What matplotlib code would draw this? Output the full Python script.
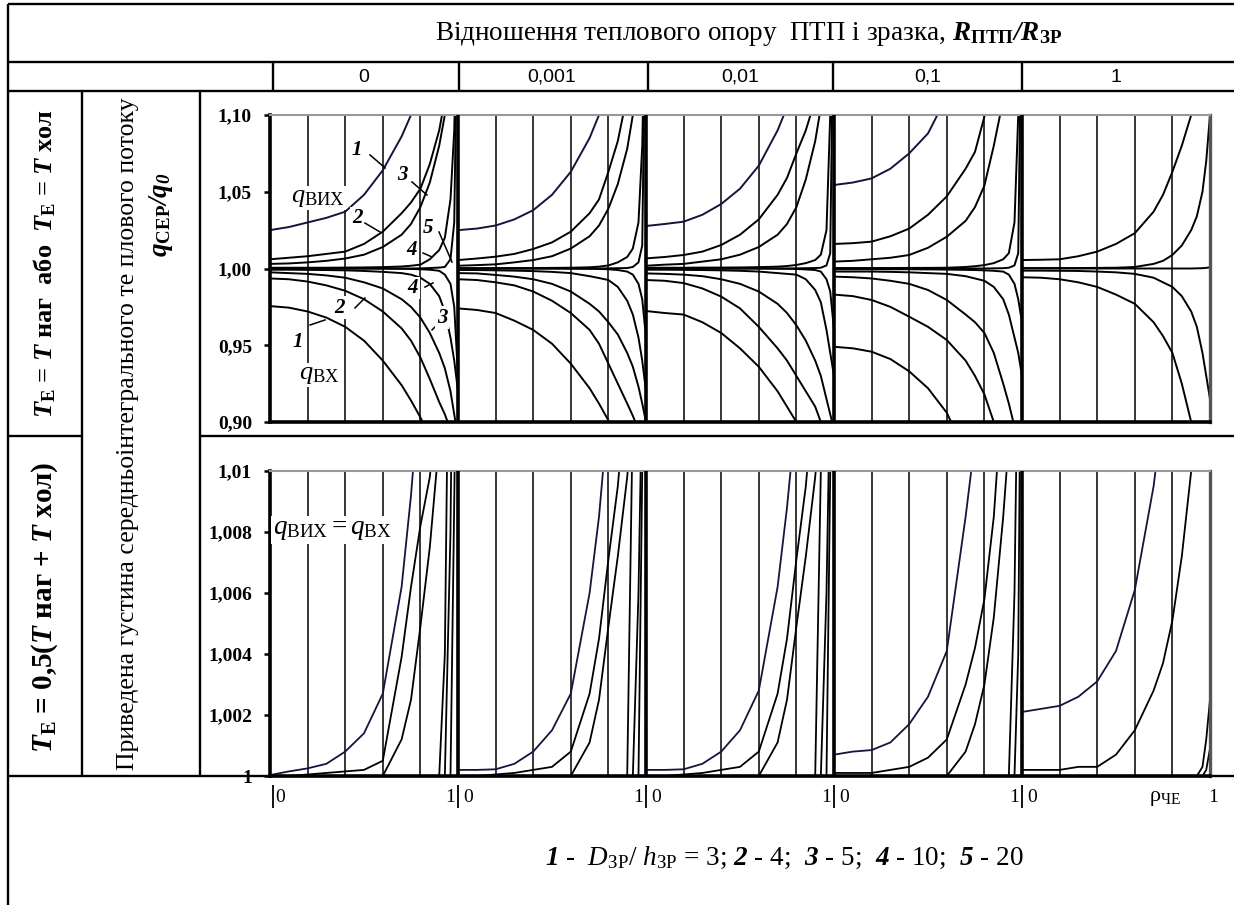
import numpy as np
import matplotlib.pyplot as plt

plt.rcParams["font.family"] = ["Liberation Serif", "DejaVu Serif"]
plt.rcParams["mathtext.fontset"] = "custom"
plt.rcParams["mathtext.rm"] = "Liberation Serif"
plt.rcParams["mathtext.it"] = "Liberation Serif:italic"
plt.rcParams["mathtext.bf"] = "Liberation Serif:bold"
plt.rcParams["mathtext.bfit"] = "Liberation Serif:italic:bold"

# relative coordinate rho along each panel
rho = [0, 0.1, 0.2, 0.3, 0.4, 0.5, 0.6, 0.7, 0.75, 0.8, 0.85, 0.9, 0.93, 0.96, 0.98, 1.0]
r_labels = ["0", "0,001", "0,01", "0,1", "1"]

# upper row: q_out (above 1) and q_in (below 1), curves 1..5 (D/h = 3, 4, 5, 10, 20)
q_out_r0 = [
    [1.025, 1.027, 1.030, 1.033, 1.037, 1.048, 1.064, 1.086, 1.100, 1.130, 1.170, 1.2, 1.2, 1.2, 1.2, 1.2],
    [1.006, 1.007, 1.008, 1.0095, 1.011, 1.016, 1.024, 1.036, 1.043, 1.052, 1.068, 1.090, 1.110, 1.2, 1.2, 1.2],
    [1.003, 1.0033, 1.004, 1.005, 1.0065, 1.009, 1.014, 1.022, 1.029, 1.040, 1.056, 1.080, 1.100, 1.150, 1.2, 1.2],
    [1.0005, 1.0005, 1.0005, 1.0005, 1.0006, 1.0007, 1.0009, 1.0013, 1.0018, 1.0025, 1.006, 1.012, 1.020, 1.045, 1.090, 1.2],
    [1.0, 1.0, 1.0, 1.0, 1.0, 1.0, 1.0, 1.0, 1.0, 1.0001, 1.0003, 1.0006, 1.001, 1.006, 1.030, 1.2],
]
q_in_r0 = [
    [0.9755, 0.9745, 0.972, 0.968, 0.962, 0.953, 0.940, 0.924, 0.914, 0.903, 0.890, 0.87, 0.86, 0.85, 0.84, 0.83],
    [0.9935, 0.993, 0.9915, 0.989, 0.9855, 0.980, 0.972, 0.961, 0.953, 0.942, 0.928, 0.913, 0.905, 0.895, 0.88, 0.87],
    [0.9975, 0.997, 0.9965, 0.9955, 0.994, 0.991, 0.987, 0.980, 0.975, 0.968, 0.958, 0.945, 0.935, 0.920, 0.905, 0.89],
    [0.9992, 0.9992, 0.9991, 0.999, 0.9988, 0.9984, 0.9978, 0.997, 0.996, 0.994, 0.990, 0.982, 0.972, 0.955, 0.940, 0.92],
    [1.0, 1.0, 1.0, 1.0, 1.0, 1.0, 0.9999, 0.9998, 0.9997, 0.9995, 0.9992, 0.9985, 0.996, 0.990, 0.975, 0.93],
]
q_out_r1 = [
    [1.025, 1.026, 1.028, 1.032, 1.038, 1.048, 1.063, 1.085, 1.100, 1.130, 1.170, 1.2, 1.2, 1.2, 1.2, 1.2],
    [1.0055, 1.0065, 1.0077, 1.0095, 1.0127, 1.017, 1.024, 1.036, 1.045, 1.063, 1.083, 1.113, 1.2, 1.2, 1.2, 1.2],
    [1.0018, 1.0022, 1.0027, 1.004, 1.0055, 1.008, 1.013, 1.021, 1.028, 1.039, 1.055, 1.078, 1.100, 1.150, 1.2, 1.2],
    [1.0002, 1.0002, 1.0002, 1.0003, 1.0003, 1.0004, 1.0005, 1.0008, 1.0012, 1.002, 1.004, 1.0075, 1.013, 1.030, 1.080, 1.2],
    [1.0, 1.0, 1.0, 1.0, 1.0, 1.0, 1.0, 1.0, 1.0, 1.0001, 1.0002, 1.0003, 1.001, 1.004, 1.015, 1.2],
]
q_in_r1 = [
    [0.974, 0.973, 0.971, 0.966, 0.960, 0.951, 0.938, 0.922, 0.912, 0.901, 0.888, 0.87, 0.86, 0.85, 0.84, 0.83],
    [0.993, 0.9925, 0.991, 0.989, 0.985, 0.979, 0.971, 0.960, 0.951, 0.938, 0.925, 0.912, 0.904, 0.895, 0.88, 0.87],
    [0.997, 0.9968, 0.9958, 0.9947, 0.993, 0.990, 0.985, 0.977, 0.972, 0.965, 0.957, 0.945, 0.936, 0.923, 0.912, 0.90],
    [0.999, 0.999, 0.9988, 0.9986, 0.9983, 0.9978, 0.997, 0.995, 0.9938, 0.9925, 0.988, 0.979, 0.970, 0.955, 0.940, 0.92],
    [1.0, 1.0, 1.0, 1.0, 1.0, 1.0, 0.9999, 0.9998, 0.9997, 0.9995, 0.999, 0.998, 0.996, 0.990, 0.980, 0.955],
]
q_out_r2 = [
    [1.0277, 1.029, 1.0305, 1.035, 1.042, 1.052, 1.067, 1.090, 1.105, 1.140, 1.2, 1.2, 1.2, 1.2, 1.2, 1.2],
    [1.0066, 1.0075, 1.0088, 1.011, 1.0153, 1.022, 1.032, 1.048, 1.059, 1.075, 1.090, 1.110, 1.150, 1.2, 1.2, 1.2],
    [1.0018, 1.0025, 1.003, 1.0045, 1.006, 1.009, 1.014, 1.022, 1.029, 1.040, 1.058, 1.083, 1.105, 1.150, 1.2, 1.2],
    [1.0005, 1.0005, 1.0005, 1.0006, 1.0006, 1.0007, 1.0009, 1.0012, 1.0016, 1.0023, 1.0035, 1.0055, 1.009, 1.025, 1.100, 1.2],
    [1.0, 1.0, 1.0, 1.0, 1.0, 1.0, 1.0, 1.0, 1.0, 1.0001, 1.0002, 1.0003, 1.0005, 1.002, 1.010, 1.2],
]
q_in_r2 = [
    [0.9723, 0.971, 0.970, 0.965, 0.958, 0.948, 0.936, 0.920, 0.910, 0.900, 0.885, 0.87, 0.86, 0.85, 0.84, 0.83],
    [0.9925, 0.992, 0.9905, 0.987, 0.9817, 0.974, 0.962, 0.948, 0.940, 0.930, 0.920, 0.910, 0.900, 0.88, 0.87, 0.86],
    [0.9968, 0.9965, 0.996, 0.995, 0.993, 0.990, 0.985, 0.977, 0.971, 0.963, 0.953, 0.940, 0.930, 0.915, 0.905, 0.895],
    [0.9992, 0.9992, 0.9991, 0.999, 0.9988, 0.9985, 0.998, 0.997, 0.9965, 0.996, 0.993, 0.986, 0.978, 0.960, 0.945, 0.93],
    [1.0, 1.0, 1.0, 1.0, 1.0, 1.0, 1.0, 0.9999, 0.9998, 0.9997, 0.9994, 0.999, 0.998, 0.993, 0.985, 0.96],
]
q_out_r3 = [
    [1.0544, 1.056, 1.0587, 1.065, 1.075, 1.088, 1.112, 1.15, 1.2, 1.2, 1.2, 1.2, 1.2, 1.2, 1.2, 1.2],
    [1.016, 1.0165, 1.0175, 1.021, 1.026, 1.035, 1.047, 1.065, 1.076, 1.099, 1.130, 1.2, 1.2, 1.2, 1.2, 1.2],
    [1.0045, 1.005, 1.006, 1.007, 1.0088, 1.0135, 1.0207, 1.031, 1.040, 1.054, 1.080, 1.110, 1.140, 1.2, 1.2, 1.2],
    [1.0003, 1.0003, 1.0003, 1.0003, 1.0004, 1.0004, 1.0005, 1.001, 1.0015, 1.0022, 1.0035, 1.006, 1.010, 1.030, 1.100, 1.2],
    [1.0, 1.0, 1.0, 1.0, 1.0, 1.0, 1.0, 1.0, 1.0, 1.0, 1.0001, 1.0002, 1.0005, 1.002, 1.010, 1.2],
]
q_in_r3 = [
    [0.949, 0.948, 0.9458, 0.941, 0.933, 0.922, 0.906, 0.880, 0.87, 0.86, 0.85, 0.84, 0.83, 0.82, 0.81, 0.80],
    [0.983, 0.982, 0.9795, 0.975, 0.9686, 0.962, 0.9534, 0.940, 0.930, 0.918, 0.900, 0.89, 0.88, 0.87, 0.86, 0.85],
    [0.9947, 0.9943, 0.9935, 0.992, 0.990, 0.986, 0.9795, 0.970, 0.965, 0.958, 0.945, 0.925, 0.912, 0.897, 0.89, 0.88],
    [0.998, 0.998, 0.998, 0.9978, 0.9975, 0.997, 0.9965, 0.995, 0.9935, 0.992, 0.988, 0.980, 0.970, 0.955, 0.945, 0.93],
    [0.9995, 0.9995, 0.9995, 0.9995, 0.9995, 0.9994, 0.9993, 0.9991, 0.999, 0.9988, 0.9985, 0.998, 0.996, 0.990, 0.980, 0.965],
]
q_out_r4 = [
    [1.0055, 1.0057, 1.006, 1.008, 1.011, 1.016, 1.023, 1.037, 1.048, 1.063, 1.080, 1.100, 1.115, 1.2, 1.2, 1.2],
    [1.0003, 1.0003, 1.0003, 1.0003, 1.0004, 1.0005, 1.001, 1.003, 1.005, 1.0088, 1.015, 1.025, 1.034, 1.050, 1.070, 1.100],
    [1.0, 1.0, 1.0, 1.0, 1.0, 1.0, 1.0, 1.0, 1.0, 1.0, 1.0, 1.0, 1.0001, 1.0002, 1.0004, 1.0008],
]
q_in_r4 = [
    [0.9943, 0.994, 0.993, 0.991, 0.988, 0.983, 0.977, 0.965, 0.956, 0.945, 0.925, 0.900, 0.89, 0.88, 0.87, 0.86],
    [0.9986, 0.9986, 0.9985, 0.9984, 0.998, 0.9975, 0.9965, 0.994, 0.991, 0.988, 0.982, 0.972, 0.962, 0.945, 0.930, 0.915],
]
out_first_navy = [True, True, True, True, False]

# lower row: q_out = q_in, range 1 .. 1.01
q_eq_r0 = [
    [1.00003, 1.00015, 1.00025, 1.0004, 1.0008, 1.0014, 1.0027, 1.0062, 1.0092, 1.013, 1.02, 1.02, 1.02, 1.02, 1.02, 1.02],
    [1.0, 1.0, 1.00005, 1.0001, 1.00015, 1.0002, 1.0005, 1.0039, 1.0062, 1.0082, 1.0098, 1.013, 1.02, 1.02, 1.02, 1.02],
    [1.0, 1.0, 1.0, 1.0, 1.0, 1.0, 1.0, 1.0012, 1.0025, 1.0049, 1.0075, 1.011, 1.02, 1.02, 1.02, 1.02],
    [1.0, 1.0, 1.0, 1.0, 1.0, 1.0, 1.0, 1.0, 1.0, 1.0, 1.0, 1.0, 1.004, 1.02, 1.02, 1.02],
    [1.0, 1.0, 1.0, 1.0, 1.0, 1.0, 1.0, 1.0, 1.0, 1.0, 1.0, 1.0, 1.0, 1.008, 1.02, 1.02],
    [1.0, 1.0, 1.0, 1.0, 1.0, 1.0, 1.0, 1.0, 1.0, 1.0, 1.0, 1.0, 1.0, 1.0, 1.009, 1.02],
]
q_eq_r1 = [
    [1.0002, 1.0002, 1.00022, 1.0004, 1.0008, 1.0015, 1.0027, 1.0060, 1.0085, 1.012, 1.02, 1.02, 1.02, 1.02, 1.02, 1.02],
    [1.0, 1.0, 1.00005, 1.0001, 1.0002, 1.0003, 1.0008, 1.0027, 1.0045, 1.0071, 1.0095, 1.013, 1.02, 1.02, 1.02, 1.02],
    [1.0, 1.0, 1.0, 1.0, 1.0, 1.0, 1.0, 1.0011, 1.0025, 1.0049, 1.0072, 1.0098, 1.012, 1.02, 1.02, 1.02],
    [1.0, 1.0, 1.0, 1.0, 1.0, 1.0, 1.0, 1.0, 1.0, 1.0, 1.0, 1.0, 1.012, 1.02, 1.02, 1.02],
    [1.0, 1.0, 1.0, 1.0, 1.0, 1.0, 1.0, 1.0, 1.0, 1.0, 1.0, 1.0, 1.0, 1.006, 1.013, 1.02],
    [1.0, 1.0, 1.0, 1.0, 1.0, 1.0, 1.0, 1.0, 1.0, 1.0, 1.0, 1.0, 1.0, 1.0, 1.010, 1.02],
]
q_eq_r2 = [
    [1.0002, 1.0002, 1.00022, 1.0004, 1.0008, 1.0015, 1.0028, 1.0062, 1.0088, 1.012, 1.02, 1.02, 1.02, 1.02, 1.02, 1.02],
    [1.0, 1.0, 1.00005, 1.0001, 1.0002, 1.0003, 1.0008, 1.0027, 1.0045, 1.0071, 1.0095, 1.013, 1.02, 1.02, 1.02, 1.02],
    [1.0, 1.0, 1.0, 1.0, 1.0, 1.0, 1.0, 1.0011, 1.0025, 1.0049, 1.0072, 1.0098, 1.012, 1.02, 1.02, 1.02],
    [1.0, 1.0, 1.0, 1.0, 1.0, 1.0, 1.0, 1.0, 1.0, 1.0, 1.0, 1.0, 1.010, 1.02, 1.02, 1.02],
    [1.0, 1.0, 1.0, 1.0, 1.0, 1.0, 1.0, 1.0, 1.0, 1.0, 1.0, 1.0, 1.0, 1.006, 1.013, 1.02],
    [1.0, 1.0, 1.0, 1.0, 1.0, 1.0, 1.0, 1.0, 1.0, 1.0, 1.0, 1.0, 1.0, 1.0, 1.010, 1.02],
]
q_eq_r3 = [
    [1.0007, 1.0008, 1.00085, 1.0011, 1.0017, 1.0026, 1.0041, 1.0085, 1.011, 1.02, 1.02, 1.02, 1.02, 1.02, 1.02, 1.02],
    [1.0001, 1.0001, 1.0001, 1.0002, 1.0003, 1.0006, 1.0012, 1.003, 1.0042, 1.0058, 1.0085, 1.013, 1.02, 1.02, 1.02, 1.02],
    [1.0, 1.0, 1.0, 1.0, 1.0, 1.0, 1.0, 1.0008, 1.0017, 1.003, 1.0052, 1.0085, 1.011, 1.02, 1.02, 1.02],
    [1.0, 1.0, 1.0, 1.0, 1.0, 1.0, 1.0, 1.0, 1.0, 1.0, 1.0, 1.0, 1.0, 1.006, 1.015, 1.02],
    [1.0, 1.0, 1.0, 1.0, 1.0, 1.0, 1.0, 1.0, 1.0, 1.0, 1.0, 1.0, 1.0, 1.0, 1.004, 1.02],
]
q_eq_r4 = [
    [1.0021, 1.0022, 1.0023, 1.0026, 1.0031, 1.0041, 1.0061, 1.0095, 1.012, 1.02, 1.02, 1.02, 1.02, 1.02, 1.02, 1.02],
    [1.0002, 1.0002, 1.0002, 1.0003, 1.0003, 1.0007, 1.0015, 1.0028, 1.0037, 1.0051, 1.0072, 1.010, 1.013, 1.02, 1.02, 1.02],
    [1.0, 1.0, 1.0, 1.0, 1.0, 1.0, 1.0, 1.0, 1.0, 1.0, 1.0, 1.0, 1.0, 1.0003, 1.0012, 1.0025],
    [1.0, 1.0, 1.0, 1.0, 1.0, 1.0, 1.0, 1.0, 1.0, 1.0, 1.0, 1.0, 1.0, 1.0, 1.0002, 1.0009],
]

q_out = [q_out_r0, q_out_r1, q_out_r2, q_out_r3, q_out_r4]
q_in = [q_in_r0, q_in_r1, q_in_r2, q_in_r3, q_in_r4]
q_eq = [q_eq_r0, q_eq_r1, q_eq_r2, q_eq_r3, q_eq_r4]

navy = "#14143c"
W, H = 1234, 905

fig = plt.figure(figsize=(W / 100, H / 100), dpi=100)

# table frame drawn in pixel coordinates
tab = fig.add_axes([0, 0, 1, 1])
tab.set_xlim(0, W)
tab.set_ylim(H, 0)
tab.axis("off")
tab_lw = 1.7
hlines = [(4, 8, W), (62, 8, W), (91, 8, W), (436, 8, 82), (436, 200, W), (776, 8, W)]
vlines = [(8, 4, H), (82, 91, 776), (200, 91, 776)]
for x in [273, 459, 648, 833, 1022]:
    vlines.append((x, 62, 91))
for y, x0, x1 in hlines:
    tab.plot([x0, x1], [y, y], color="black", lw=tab_lw, solid_capstyle="butt")
for x, y0, y1 in vlines:
    tab.plot([x, x], [y0, y1], color="black", lw=tab_lw, solid_capstyle="butt")

tab.text(749, 34, "Відношення теплового опору  ПТП і зразка, "
         r"$\mathbfit{R}_{\mathbf{ПТП}}\mathbfit{/R}_{\mathbf{ЗР}}$",
         fontsize=19.5, ha="center", va="center")
tab.text(45, 263, r"$\mathbfit{T}_{\mathbf{Е}}$ = $\mathbfit{T}$ наг  або  "
         r"$\mathbfit{T}_{\mathbf{Е}}$ = $\mathbfit{T}$ хол",
         fontsize=19, fontweight="bold", rotation=90, ha="center", va="center")
tab.text(45, 607, r"$\mathbfit{T}_{\mathbf{Е}}$ = 0,5($\mathbfit{T}$ наг + $\mathbfit{T}$ хол)",
         fontsize=21, fontweight="bold", rotation=90, ha="center", va="center")
tab.text(128, 434, "Приведена густина середньоінтегрального те плового потоку",
         fontsize=18.5, rotation=90, ha="center", va="center")
tab.text(161, 215, r"$\mathbfit{q}_{\mathbf{СЕР}}\mathbfit{/q}_{\mathbfit{0}}$",
         fontsize=19.5, rotation=90, ha="center", va="center")
tab.text(784, 858, r"$\mathbfit{1}$ -  $\mathit{D}_{\mathrm{ЗР}}$/ $\mathit{h}_{\mathrm{ЗР}}$ = 3; "
         r"$\mathbfit{2}$ - 4;  $\mathbfit{3}$ - 5;  $\mathbfit{4}$ - 10;  $\mathbfit{5}$ - 20",
         fontsize=19.5, ha="center", va="center")

x0f, x1f = 270 / W, 1210 / W
ax_top = fig.add_axes([x0f, 1 - 422 / H, x1f - x0f, 307 / H])
ax_bot = fig.add_axes([x0f, 1 - 776 / H, x1f - x0f, 305 / H])

for ax in (ax_top, ax_bot):
    ax.set_xlim(0, 5)
    ax.set_xticks([])
    for k in range(5):
        for g in [0.2, 0.4, 0.6, 0.8]:
            ax.axvline(k + g, color="black", lw=1.1, zorder=1)
    for k in range(1, 5):
        ax.axvline(k, color="black", lw=2.6, zorder=3)
    ax.spines["left"].set_linewidth(2.6)
    ax.spines["bottom"].set_linewidth(2.6)
    ax.spines["top"].set_color("#999999")
    ax.spines["top"].set_linewidth(1.5)
    ax.spines["right"].set_color("#555555")
    ax.spines["right"].set_linewidth(2.4)
    ax.tick_params(axis="y", direction="out", length=4, width=1.8, pad=9)

ax_top.set_ylim(0.90, 1.10)
ax_top.set_yticks([0.90, 0.95, 1.00, 1.05, 1.10])
ax_top.set_yticklabels(["0,90", "0,95", "1,00", "1,05", "1,10"], fontweight="bold", fontsize=14)
ax_bot.set_ylim(1.0, 1.01)
ax_bot.set_yticks([1.0, 1.002, 1.004, 1.006, 1.008, 1.01])
ax_bot.set_yticklabels(["1", "1,002", "1,004", "1,006", "1,008", "1,01"], fontweight="bold", fontsize=14)

for k in range(5):
    xs = np.add(k, rho)
    for i, y in enumerate(q_out[k]):
        c = navy if (i == 0 and out_first_navy[k]) else "black"
        ax_top.plot(xs, y, color=c, lw=1.4, zorder=2)
    for y in q_in[k]:
        ax_top.plot(xs, y, color="black", lw=1.4, zorder=2)
    for i, y in enumerate(q_eq[k]):
        ax_bot.plot(xs, y, color=navy if i == 0 else "black", lw=1.3, zorder=2)

# curve labels with leader lines, panel R = 0
white = dict(facecolor="white", edgecolor="none", pad=1)
num_labels = [
    ("1", 0.463, 1.0772, [0.532, 0.612], [1.074, 1.0655]),
    ("3", 0.702, 1.0609, [0.755, 0.835], [1.0564, 1.0479]),
    ("2", 0.463, 1.0329, [0.505, 0.585], [1.0296, 1.0238]),
    ("5", 0.840, 1.0264, [0.899, 0.968], [1.0238, 1.0042]),
    ("4", 0.755, 1.0120, [0.814, 0.862], [1.0101, 1.0075]),
    ("4", 0.761, 0.9873, [0.824, 0.867], [0.9879, 0.9906]),
    ("2", 0.372, 0.9743, [0.452, 0.505], [0.9743, 0.9808]),
    ("3", 0.915, 0.9678, [0.862, 0.904], [0.9600, 0.9652]),
    ("1", 0.149, 0.9521, [0.213, 0.293], [0.9632, 0.9665]),
]
for s, tx, ty, lx, ly in num_labels:
    ax_top.plot(lx, ly, color="black", lw=1.1, zorder=4)
    ax_top.text(tx, ty, s, fontsize=15, fontweight="bold", fontstyle="italic",
                ha="center", va="center", zorder=5, bbox=white)
ax_top.text(0.255, 1.046, r"$\mathit{q}_{\mathrm{ВИХ}}$", fontsize=19,
            ha="center", va="center", zorder=5, bbox=white)
ax_top.text(0.26, 0.9306, r"$\mathit{q}_{\mathrm{ВХ}}$", fontsize=19,
            ha="center", va="center", zorder=5, bbox=white)
ax_bot.text(0.33, 1.00807, r"$\mathit{q}_{\mathrm{ВИХ}} = \mathit{q}_{\mathrm{ВХ}}$", fontsize=19.5,
            ha="center", va="center", zorder=5, bbox=white)

# R values above the panels
for k, lab in enumerate(r_labels):
    tab.text(270 + 188 * (k + 0.5), 77, lab, family="Liberation Sans", fontsize=14,
             ha="center", va="center")

# rho axis under the lower row
xt = ax_bot.get_xaxis_transform()
ax_bot.vlines([0.015, 1, 2, 3, 4], -0.03, -0.105, transform=xt, color="black", lw=1.3, clip_on=False)
for k in range(5):
    ax_bot.text(k + 0.055, -0.072, "0", transform=xt, fontsize=14, ha="center", va="center")
    xe = k + 1 - 0.04 if k < 4 else 5.016
    ax_bot.text(xe, -0.072, "1", transform=xt, fontsize=14, ha="center", va="center")
ax_bot.text(4.76, -0.075, r"$\mathrm{ρ}_{\mathrm{ЧЕ}}$", transform=xt, fontsize=16,
            ha="center", va="center")

fig.savefig("out.png", dpi=100)
